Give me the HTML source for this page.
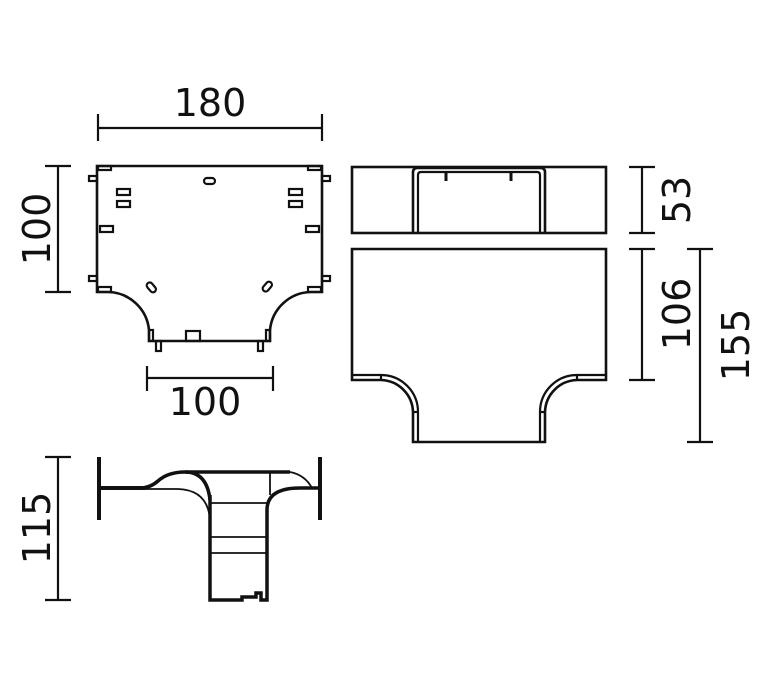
<!DOCTYPE html>
<html><head><meta charset="utf-8"><style>
html,body{margin:0;padding:0;background:#fff;}
svg{display:block;}
text{font-family:"DejaVu Sans","Liberation Sans",sans-serif;font-size:38px;fill:#111;}
</style></head><body>
<svg width="776" height="686" viewBox="0 0 776 686" xmlns="http://www.w3.org/2000/svg">
<g stroke="#111" fill="none" stroke-width="2.2">
<!-- dims top view -->
<line x1="98" y1="128" x2="322" y2="128"/><line x1="98" y1="114" x2="98" y2="141"/><line x1="322" y1="114" x2="322" y2="141"/>
<line x1="58" y1="166" x2="58" y2="292"/><line x1="45" y1="166" x2="71" y2="166"/><line x1="45" y1="292" x2="71" y2="292"/>
<line x1="147" y1="378" x2="273" y2="378"/><line x1="147" y1="366" x2="147" y2="391"/><line x1="273" y1="366" x2="273" y2="391"/>
<!-- top view outline -->
<path d="M97 166 H322 V292 H311 A42 42 0 0 0 270 330 V341 H149 V330 A42 42 0 0 0 108 292 H97 Z" stroke-width="2.6"/>
<!-- side tabs -->
<rect x="89" y="176" width="8" height="5"/><rect x="322" y="176" width="8" height="5"/>
<rect x="89" y="276" width="8" height="5"/><rect x="322" y="276" width="8" height="5"/>
<rect x="98" y="166" width="13" height="4"/><rect x="308" y="166" width="13" height="4"/>
<rect x="98" y="287" width="13" height="5"/><rect x="308" y="287" width="13" height="5"/>
<rect x="100" y="226" width="13" height="6"/><rect x="306" y="226" width="13" height="6"/>
<rect x="117" y="189" width="13" height="6"/><rect x="117" y="201" width="13" height="6"/>
<rect x="289" y="189" width="13" height="6"/><rect x="289" y="201" width="13" height="6"/>
<rect x="204" y="178" width="11" height="6" rx="3"/>
<rect x="146" y="284" width="11" height="6" rx="3" transform="rotate(50 151 287)"/>
<rect x="262" y="284" width="11" height="6" rx="3" transform="rotate(-50 267 287)"/>
<rect x="186" y="331" width="14" height="10"/>
<rect x="149" y="330" width="4" height="11"/><rect x="266" y="330" width="4" height="11"/>
<rect x="156" y="341" width="5" height="10"/><rect x="258" y="341" width="5" height="10"/>
<!-- front view -->
<rect x="352" y="167" width="254" height="66" stroke-width="2.6"/>
<path d="M413 233 V172 Q413 168 418 168 H540 Q545 168 545 172 V233" stroke-width="2.6"/>
<path d="M418 233 V175 Q418 172 421 172 H537 Q540 172 540 175 V233"/>
<line x1="446" y1="172" x2="446" y2="181" stroke-width="3"/><line x1="511" y1="172" x2="511" y2="181" stroke-width="3"/>
<path d="M352 249 H606 V380 H577 A33 33 0 0 0 545 412 V442 H413 V412 A33 33 0 0 0 381 380 H352 Z" stroke-width="2.6"/>
<path d="M352 375 H381 A37 37 0 0 1 418 412 V442"/>
<path d="M606 375 H577 A37 37 0 0 0 540 412 V442"/>
<line x1="381" y1="375" x2="381" y2="380"/><line x1="577" y1="375" x2="577" y2="380"/>
<line x1="413" y1="412" x2="418" y2="412"/><line x1="540" y1="412" x2="545" y2="412"/>
<!-- front dims -->
<line x1="642" y1="167" x2="642" y2="233"/><line x1="629" y1="167" x2="655" y2="167"/><line x1="629" y1="233" x2="655" y2="233"/>
<line x1="642" y1="249" x2="642" y2="380"/><line x1="629" y1="249" x2="655" y2="249"/><line x1="629" y1="380" x2="655" y2="380"/>
<line x1="700" y1="249" x2="700" y2="442"/><line x1="687" y1="249" x2="713" y2="249"/><line x1="687" y1="442" x2="713" y2="442"/>
<!-- side view -->
<line x1="58" y1="457" x2="58" y2="600"/><line x1="45" y1="457" x2="71" y2="457"/><line x1="45" y1="600" x2="71" y2="600"/>
<line x1="99" y1="457" x2="99" y2="520" stroke-width="4"/><line x1="320" y1="457" x2="320" y2="520" stroke-width="4"/>
<path d="M99 488 H140 Q150 488 158 481 Q168 472 185 472 H290" stroke-width="3.5"/>
<path d="M140 489 H178 Q208 490 210 520 V600 H242" stroke-width="1.8"/>
<path d="M185 472 Q207 472 210 500" stroke-width="3.5"/>
<path d="M99 488 H145" stroke-width="4"/>
<path d="M210 495 V600 H242 V597 H256 V593 H261 V600 H267 V510 Q267 488 300 488 H320" stroke-width="3.5"/>
<path d="M290 472 Q305 475 312 488" stroke-width="1.8"/>
<line x1="270" y1="472" x2="270" y2="495" stroke-width="1.8"/>
<line x1="210" y1="503" x2="267" y2="503" stroke-width="1.8"/>
<line x1="210" y1="537" x2="267" y2="537" stroke-width="1.8"/>
<line x1="210" y1="553" x2="267" y2="553" stroke-width="1.8"/>
</g>
<text x="210" y="116" text-anchor="middle">180</text>
<text x="205" y="415" text-anchor="middle">100</text>
<text transform="translate(50 229) rotate(-90)" text-anchor="middle">100</text>
<text transform="translate(50 528) rotate(-90)" text-anchor="middle">115</text>
<text transform="translate(690 200) rotate(-90)" text-anchor="middle">53</text>
<text transform="translate(690 314) rotate(-90)" text-anchor="middle">106</text>
<text transform="translate(749 345) rotate(-90)" text-anchor="middle">155</text>
</svg>
</body></html>
